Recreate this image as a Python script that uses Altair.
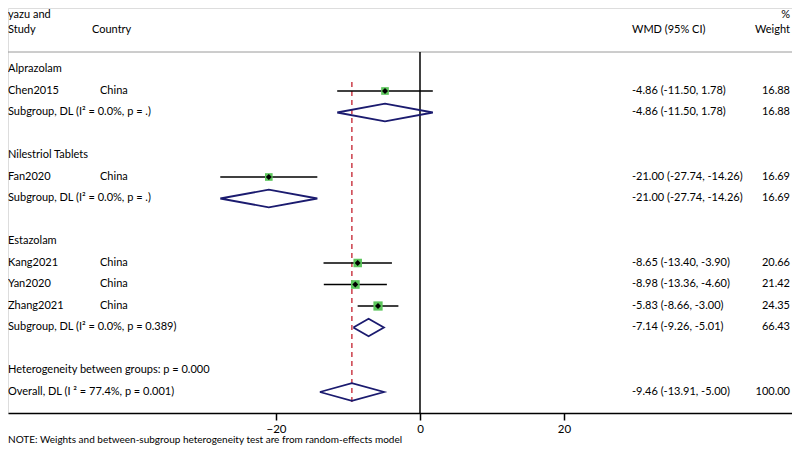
import altair as alt
import pandas as pd

# ---- data ----
study_names = ["Chen2015", "Fan2020", "Kang2021", "Yan2020", "Zhang2021"]
study_country = ["China", "China", "China", "China", "China"]
study_est = [-4.86, -21.00, -8.65, -8.98, -5.83]
study_lo = [-11.50, -27.74, -13.40, -13.36, -8.66]
study_hi = [1.78, -14.26, -3.90, -4.60, -3.00]
study_wt = [16.88, 16.69, 20.66, 21.42, 24.35]
study_row = [4, 8, 12, 13, 14]

pool_labels = ["Subgroup, DL (I² = 0.0%, p = .)", "Subgroup, DL (I² = 0.0%, p = .)",
               "Subgroup, DL (I² = 0.0%, p = 0.389)", "Overall, DL (I ² = 77.4%, p = 0.001)"]
pool_est = [-4.86, -21.00, -7.14, -9.46]
pool_lo = [-11.50, -27.74, -9.26, -13.91]
pool_hi = [1.78, -14.26, -5.01, -5.00]
pool_wt = [16.88, 16.69, 66.43, 100.00]
pool_row = [5, 9, 15, 18]

group_labels = ["Alprazolam", "Nilestriol Tablets", "Estazolam", "Heterogeneity between groups: p = 0.000"]
group_row = [3, 7, 11, 17]

x_ticks = [-20, 0, 20]
overall_est = -9.46

FONT = "Lato"

studies = pd.DataFrame({
    "name": study_names, "country": study_country, "est": study_est,
    "lo": study_lo, "hi": study_hi, "wt": study_wt, "row": study_row,
})
studies["ci"] = [f"{e:.2f} ({l:.2f}, {h:.2f})" for e, l, h in zip(study_est, study_lo, study_hi)]
studies["wtxt"] = [f"{w:.2f}" for w in study_wt]

pools = pd.DataFrame({
    "name": pool_labels, "est": pool_est, "lo": pool_lo, "hi": pool_hi,
    "wt": pool_wt, "row": pool_row,
})
pools["ci"] = [f"{e:.2f} ({l:.2f}, {h:.2f})" for e, l, h in zip(pool_est, pool_lo, pool_hi)]
pools["wtxt"] = [f"{w:.2f}" for w in pool_wt]

groups = pd.DataFrame({"name": group_labels, "row": group_row})

# diamond polygons
dia_rows = []
hh = 0.41
for i, (e, l, h, r) in enumerate(zip(pool_est, pool_lo, pool_hi, pool_row)):
    pts = [(l, r), (e, r - hh), (h, r), (e, r + hh), (l, r)]
    for k, (px, py) in enumerate(pts):
        dia_rows.append({"g": i, "k": k, "x": px, "y": py})
diamonds = pd.DataFrame(dia_rows)

W, H = 784, 405
xscale = alt.Scale(domain=[-57.222, 51.667], nice=False, zero=False)
yscale = alt.Scale(domain=[0.1395, 18.977], reverse=True, nice=False, zero=False)

xaxis = alt.Axis(values=x_ticks, title=None, grid=False, domainColor="black", domainWidth=1.5,
                 tickColor="black", tickWidth=1.5, tickSize=7, labelFont=FONT, labelFontSize=11.5,
                 labelColor="black", labelPadding=3)

base_s = alt.Chart(studies)

ci_lines = base_s.mark_rule(color="black", strokeWidth=1.6).encode(
    x=alt.X("lo:Q", scale=xscale, axis=xaxis),
    x2="hi:Q",
    y=alt.Y("row:Q", scale=yscale, axis=None),
)
squares = base_s.mark_square(color="#5cc65c", opacity=1).encode(
    x=alt.X("est:Q", scale=xscale),
    y=alt.Y("row:Q", scale=yscale),
    size=alt.Size("wt:Q", scale=alt.Scale(type="linear", domain=[0, 30], range=[0, 105]), legend=None),
)
dots = base_s.mark_point(shape="diamond", filled=True, color="black", size=36, opacity=1).encode(
    x=alt.X("est:Q", scale=xscale),
    y=alt.Y("row:Q", scale=yscale),
)

dia = alt.Chart(diamonds).mark_line(color="#1b1b6f", strokeWidth=1.8).encode(
    x=alt.X("x:Q", scale=xscale),
    y=alt.Y("y:Q", scale=yscale),
    detail="g:N",
    order="k:Q",
)

zero_line = alt.Chart(pd.DataFrame({"v": [0]})).mark_rule(color="black", strokeWidth=1.5).encode(
    x=alt.X("v:Q", scale=xscale), y=alt.value(44), y2=alt.value(H)
)
red_line = alt.Chart(pd.DataFrame({"v": [overall_est]})).mark_rule(
    color="#c4202e", strokeWidth=1.3, strokeDash=[5, 4]).encode(
    x=alt.X("v:Q", scale=xscale), y=alt.value(74), y2=alt.value(394)
)
header_line = alt.Chart(pd.DataFrame({"v": [0]})).mark_rule(color="#9a9a9a", strokeWidth=1).encode(
    x=alt.value(0), x2=alt.value(W), y=alt.value(44)
)

tstyle = dict(font=FONT, fontSize=11, color="black", baseline="middle")

study_name_t = base_s.mark_text(align="left", **tstyle).encode(
    x=alt.value(0), y=alt.Y("row:Q", scale=yscale), text="name:N")
study_country_t = base_s.mark_text(align="left", **tstyle).encode(
    x=alt.value(92), y=alt.Y("row:Q", scale=yscale), text="country:N")
study_ci_t = base_s.mark_text(align="left", **tstyle).encode(
    x=alt.value(624), y=alt.Y("row:Q", scale=yscale), text="ci:N")
study_w_t = base_s.mark_text(align="right", **tstyle).encode(
    x=alt.value(782), y=alt.Y("row:Q", scale=yscale), text="wtxt:N")

base_p = alt.Chart(pools)
pool_name_t = base_p.mark_text(align="left", **tstyle).encode(
    x=alt.value(0), y=alt.Y("row:Q", scale=yscale), text="name:N")
pool_ci_t = base_p.mark_text(align="left", **tstyle).encode(
    x=alt.value(624), y=alt.Y("row:Q", scale=yscale), text="ci:N")
pool_w_t = base_p.mark_text(align="right", **tstyle).encode(
    x=alt.value(782), y=alt.Y("row:Q", scale=yscale), text="wtxt:N")

group_t = alt.Chart(groups).mark_text(align="left", **tstyle).encode(
    x=alt.value(0), y=alt.Y("row:Q", scale=yscale), text="name:N")

hdr = pd.DataFrame({
    "t": ["yazu and", "Study", "Country", "WMD (95% CI)", "%", "Weight"],
    "px": [0, 0, 84, 624, 782, 782],
    "py": [7, 21.5, 21.5, 21.5, 7, 21.5],
    "al": ["left", "left", "left", "left", "right", "right"],
})
hdr_left = alt.Chart(hdr[hdr.al == "left"]).mark_text(align="left", **tstyle).encode(
    x=alt.X("px:Q", scale=None), y=alt.Y("py:Q", scale=None), text="t:N")
hdr_right = alt.Chart(hdr[hdr.al == "right"]).mark_text(align="right", **tstyle).encode(
    x=alt.X("px:Q", scale=None), y=alt.Y("py:Q", scale=None), text="t:N")

note = alt.Chart(pd.DataFrame({"t": ["NOTE: Weights and between-subgroup heterogeneity test are from random-effects model"]})
                 ).mark_text(align="left", baseline="middle", font=FONT, fontSize=10, color="black").encode(
    x=alt.value(0), y=alt.value(H + 27), text="t:N")

chart = alt.layer(
    header_line, zero_line, red_line, ci_lines, squares, dots, dia,
    study_name_t, study_country_t, study_ci_t, study_w_t,
    pool_name_t, pool_ci_t, pool_w_t, group_t, hdr_left, hdr_right, note,
).properties(
    width=W, height=H,
    autosize=alt.AutoSizeParams(type="none"),
    padding={"left": 0, "top": 0, "right": 0, "bottom": 33},
).configure_view(stroke=None).configure(background="white")

chart.save("out.html", embed_options={"renderer": "svg", "actions": False})
